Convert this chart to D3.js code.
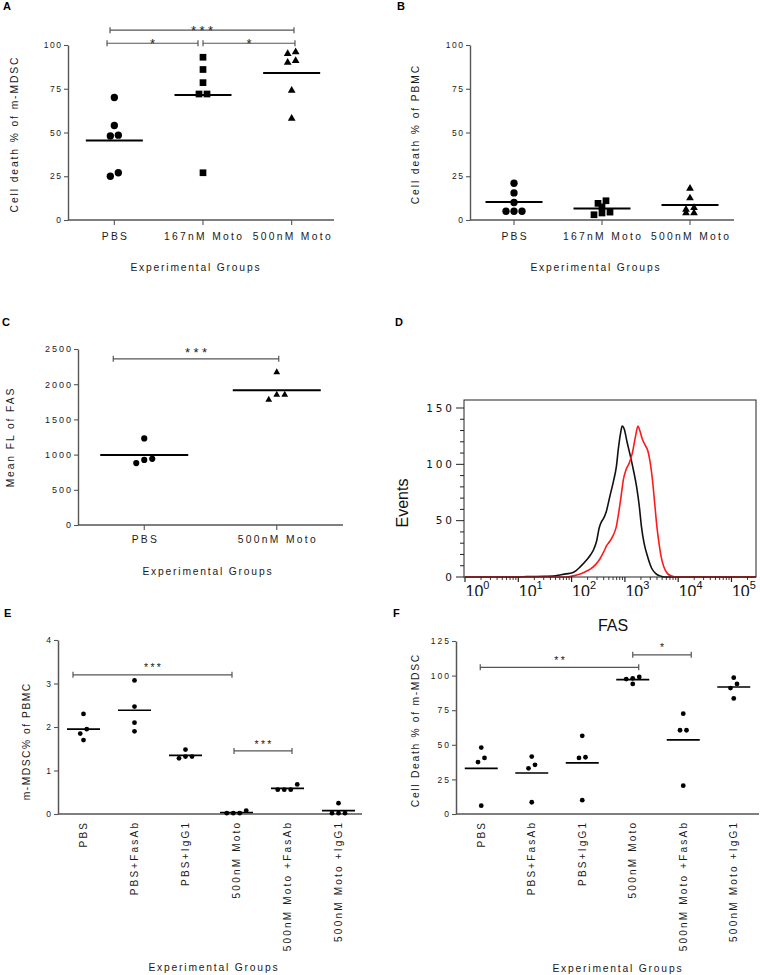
<!DOCTYPE html>
<html>
<head>
<meta charset="utf-8">
<script src="https://cdn.jsdelivr.net/npm/d3@7"></script>
<style>
  body { margin: 0; background: #fff; }
  svg { display: block; }
</style>
</head>
<body>
<svg id="fig" width="760" height="975"></svg>
<script>
// ================= DATA =================
// Panel A: Cell death % of m-MDSC
const groupsAB = ["PBS", "167nM Moto", "500nM Moto"];
const aPBS = [70, 54, 48.5, 48, 27, 25];
const a167 = [93, 86, 78.5, 72, 72, 27];
const a500 = [96, 95, 91, 90, 74, 58];
const abTicks = [0, 25, 50, 75, 100];
const aSig = [
  { from: "PBS", to: "500nM Moto", y: 108.5, label: "***" },
  { from: "PBS", to: "167nM Moto", y: 101, label: "*" },
  { from: "167nM Moto", to: "500nM Moto", y: 101, label: "*" }
];
// Panel B: Cell death % of PBMC
const bPBS = [21, 15.5, 10, 5, 5, 5];
const b167 = [11, 9.5, 7.5, 4.5, 4, 3];
const b500 = [18, 12.5, 7, 6, 4, 4];

// Panel C: Mean FL of FAS
const groupsC = ["PBS", "500nM Moto"];
const cPBS = [1230, 940, 880, 925];
const c500 = [2170, 1850, 1780, 1850];
const cTicks = [0, 500, 1000, 1500, 2000, 2500];
const cSig = [{ from: "PBS", to: "500nM Moto", y: 2360, label: "***" }];

// Panel D: flow histogram (intensity, events)
const dBlackIntensity = [1, 10, 14.5, 31.6, 45.7, 63.1, 79.4, 100, 120, 145, 191, 229, 257, 295, 331, 363, 398, 447, 525, 617, 692, 759, 832, 891, 977, 1096, 1259, 1445, 1660, 1862, 2042, 2291, 2630, 3162, 3802, 4571, 5623, 288400];
const dBlackEvents    = [0, 0, 0.4, 0.6, 0.8, 2, 2.8, 3.5, 5.5, 9, 15, 20, 24, 32, 44, 49, 52, 58, 72, 86, 98, 115, 128, 134, 131, 120, 108, 95, 80, 63, 45, 30, 19, 8, 3, 1, 0, 0];
const dRedIntensity = [1, 79.4, 107, 141, 178, 224, 282, 339, 398, 457, 525, 603, 692, 759, 851, 933, 1047, 1202, 1380, 1585, 1758, 1905, 2138, 2399, 2692, 2951, 3311, 3631, 3981, 4365, 4786, 5370, 6310, 7586, 9333, 288400];
const dRedEvents    = [0, 0, 1, 2.5, 4.5, 7, 11, 16, 22, 28, 32, 37, 45, 56, 72, 86, 95, 101, 110, 125, 134, 130, 122, 117, 112, 103, 85, 65, 45, 30, 18, 9, 3, 0.8, 0, 0];
const dYTicks = [0, 50, 100, 150];
const dXDecades = [0, 1, 2, 3, 4, 5];

// Panels E & F
const groupsEF = ["PBS", "PBS+FasAb", "PBS+IgG1", "500nM Moto", "500nM Moto +FasAb", "500nM Moto +IgG1"];
const eValues = [
  [2.3, 1.95, 1.85, 1.7],
  [3.07, 2.47, 2.1, 1.9],
  [1.48, 1.32, 1.32, 1.28],
  [0.08, 0.02, 0.02, 0.02],
  [0.68, 0.56, 0.56, 0.56],
  [0.25, 0.02, 0.02, 0.02]
];
const eTicks = [0, 1, 2, 3, 4];
const eSig = [
  { from: "PBS", to: "500nM Moto", y: 3.2, label: "***" },
  { from: "500nM Moto", to: "500nM Moto +FasAb", y: 1.45, label: "***" }
];
const fValues = [
  [48, 40.5, 37.5, 6],
  [41.5, 35.5, 33, 8.5],
  [56.5, 41, 40.5, 10],
  [99, 98, 97.5, 94],
  [72.5, 60.5, 60.5, 20.5],
  [98.5, 94, 91, 83.5]
];
const fTicks = [0, 25, 50, 75, 100, 125];
const fSig = [
  { from: "PBS", to: "500nM Moto", y: 106, label: "**" },
  { from: "500nM Moto", to: "500nM Moto +FasAb", y: 115, label: "*" }
];

// ================= DRAWING =================
const svg = d3.select("#fig");
const FONT = '"Liberation Sans", Arial, Helvetica, sans-serif';
const AX = "#555", TXT = "#1a1a1a", BR = "#555";

function label(g, x, y, s, o = {}) {
  const ls = o.ls || 0, size = o.size || 10, anchor = o.anchor || "middle";
  const sh = anchor === "middle" ? ls / 2 : anchor === "end" ? ls : 0;
  const t = g.append("text").text(s)
    .attr("font-family", o.family || FONT).attr("font-size", size)
    .attr("letter-spacing", ls).attr("text-anchor", anchor)
    .attr("fill", o.fill || TXT);
  if (o.weight) t.attr("font-weight", o.weight);
  if (o.rotate) {
    t.attr("transform", `translate(${x},${y - sh}) rotate(-90)`).attr("dy", "0.35em");
  } else {
    t.attr("x", x + sh).attr("y", y);
  }
  return t;
}

function swarmOffsets(vals, y, thr, step) {
  const order = vals.map((v, i) => i).sort((a, b) => vals[b] - vals[a]);
  const off = vals.map(() => 0);
  let cl = [], start = 0;
  const flush = () => {
    cl.sort((a, b) => vals[a] - vals[b]);
    cl.forEach((id, k) => off[id] = (k - (cl.length - 1) / 2) * step);
    cl = [];
  };
  order.forEach(id => {
    const py = y(vals[id]);
    if (cl.length && Math.abs(py - start) > thr) flush();
    if (!cl.length) start = py;
    cl.push(id);
  });
  flush();
  return off;
}

function dotPlot(c) {
  const g = svg.append("g");
  const x = d3.scaleBand().domain(c.cats).range(c.band);
  const cx = k => x(k) + x.bandwidth() / 2;
  const y = d3.scaleLinear().domain(c.yDomain).range(c.yRange);
  const y0 = y(0);

  const yAx = g.append("g").attr("transform", `translate(${c.axisX},0)`)
    .call(d3.axisLeft(y).tickValues(c.yTicks).tickFormat(d3.format("d"))
      .tickSize(4).tickSizeOuter(0).tickPadding(3));
  yAx.select(".domain").attr("stroke", AX).attr("stroke-width", c.axW);
  yAx.selectAll(".tick line").attr("stroke", AX).attr("stroke-width", 1.1);
  yAx.selectAll(".tick text").attr("font-family", FONT).attr("font-size", c.yTickSize)
    .attr("letter-spacing", c.yTickLs).attr("dx", c.yTickLs).attr("fill", TXT);

  g.append("line").attr("x1", c.axisX).attr("x2", c.xEnd).attr("y1", y0).attr("y2", y0)
    .attr("stroke", AX).attr("stroke-width", c.axW);

  c.cats.forEach((k, i) => {
    const xc = cx(k);
    if (c.xTicks) {
      g.append("line").attr("x1", xc).attr("x2", xc).attr("y1", y0).attr("y2", y0 + 5)
        .attr("stroke", AX).attr("stroke-width", 1.1);
    }
    if (c.rotate) {
      label(g, xc, y0 + 9, k, { size: 10, ls: 2.2, anchor: "end", rotate: true });
    } else {
      label(g, xc, c.labelY, k, { size: 10.3, ls: 2.3 });
    }
    const vals = c.series[i];
    const offs = swarmOffsets(vals, y, c.swarmThr, c.swarmStep);
    const sym = d3.symbol().type(c.shapes[i]).size(c.sizes[i]);
    vals.forEach((v, j) => {
      g.append("path").attr("d", sym())
        .attr("transform", `translate(${xc + offs[j]},${y(v)})`)
        .attr("fill", "#000");
    });
    const m = d3.mean(vals);
    g.append("line").attr("x1", xc - c.meanHalf).attr("x2", xc + c.meanHalf)
      .attr("y1", y(m)).attr("y2", y(m)).attr("stroke", "#000").attr("stroke-width", c.meanW);
  });

  (c.sig || []).forEach((s, i) => {
    const [d1, d2] = c.sigLayout[i];
    const x1 = cx(s.from) + d1, x2 = cx(s.to) + d2, ly = y(s.y);
    g.append("path")
      .attr("d", `M${x1},${ly - 3}V${ly + 3}M${x1},${ly}H${x2}M${x2},${ly - 3}V${ly + 3}`)
      .attr("stroke", BR).attr("stroke-width", 1.2).attr("fill", "none");
    label(g, (x1 + x2) / 2, ly - c.sigGap + 0.44 * c.sigSize, s.label,
      { size: c.sigSize, ls: c.sigLs, fill: "#222" });
  });

  label(g, c.ylx, c.yly, c.ylabel, { size: 10.3, ls: c.ylLs, rotate: true });
  label(g, c.xlx, c.xly, "Experimental Groups", { size: 10.3, ls: 1.8 });
  label(g, c.px, c.py, c.panel, { size: 11, weight: "bold", anchor: "start", fill: "#000" });
  if (c.title) label(g, c.title[1], c.title[2], c.title[0], { size: 16, fill: "#111" });
}

// Panel A
dotPlot({
  cats: groupsAB, series: [aPBS, a167, a500],
  shapes: [d3.symbolCircle, d3.symbolSquare, d3.symbolTriangle], sizes: [42, 45, 26],
  band: [70, 336], axisX: 68, xEnd: 334, yDomain: [0, 100], yRange: [220, 45], yTicks: abTicks,
  yTickSize: 8.5, yTickLs: 1.6, axW: 1.4,
  xTicks: true, rotate: false, labelY: 240, meanHalf: 28.5, meanW: 2,
  swarmThr: 5, swarmStep: 8,
  sig: aSig, sigLayout: [[-4.3, 2.3], [-7.3, -5], [0, 3.3]], sigGap: 0.5, sigSize: 13, sigLs: 3.5,
  ylabel: "Cell death % of m-MDSC", ylx: 14, yly: 135, ylLs: 1.9,
  xlx: 195, xly: 270.5, panel: "A", px: 3, py: 9.5
});

// Panel B
dotPlot({
  cats: groupsAB, series: [bPBS, b167, b500],
  shapes: [d3.symbolCircle, d3.symbolSquare, d3.symbolTriangle], sizes: [42, 45, 26],
  band: [470, 734], axisX: 470, xEnd: 734, yDomain: [0, 100], yRange: [220, 45], yTicks: abTicks,
  yTickSize: 8.5, yTickLs: 1.6, axW: 1.4,
  xTicks: true, rotate: false, labelY: 240, meanHalf: 28.5, meanW: 2,
  swarmThr: 5, swarmStep: 8,
  ylabel: "Cell death % of PBMC", ylx: 415, yly: 135, ylLs: 1.9,
  xlx: 595, xly: 270.5, panel: "B", px: 397, py: 9.5
});

// Panel C
dotPlot({
  cats: groupsC, series: [cPBS, c500],
  shapes: [d3.symbolCircle, d3.symbolTriangle], sizes: [30, 20],
  band: [78, 343], axisX: 78, xEnd: 343, yDomain: [0, 2500], yRange: [525, 349], yTicks: cTicks,
  yTickSize: 9, yTickLs: 2, axW: 1.4,
  xTicks: true, rotate: false, labelY: 543, meanHalf: 44, meanW: 2,
  swarmThr: 5, swarmStep: 8,
  sig: cSig, sigLayout: [[-31, 2]], sigGap: 8, sigSize: 13, sigLs: 3.5,
  ylabel: "Mean FL of FAS", ylx: 10, yly: 438, ylLs: 1.9,
  xlx: 207, xly: 575, panel: "C", px: 2, py: 326
});

// Panel E
dotPlot({
  cats: groupsEF, series: eValues,
  shapes: groupsEF.map(() => d3.symbolCircle), sizes: groupsEF.map(() => 18),
  band: [58, 364], axisX: 58, xEnd: 362, yDomain: [0, 4], yRange: [814, 640], yTicks: eTicks,
  yTickSize: 8.5, yTickLs: 2, axW: 1.5,
  xTicks: false, rotate: true, meanHalf: 16.5, meanW: 1.7,
  swarmThr: 5.5, swarmStep: 6.5,
  sig: eSig, sigLayout: [[-10.5, -4.5], [-2.5, 4.5]], sigGap: 8, sigSize: 10.5, sigLs: 2.3,
  ylabel: "m-MDSC% of PBMC", ylx: 26, yly: 742, ylLs: 1.5,
  xlx: 213, xly: 971, panel: "E", px: 4, py: 617
});

// Panel F
dotPlot({
  cats: groupsEF, series: fValues,
  shapes: groupsEF.map(() => d3.symbolCircle), sizes: groupsEF.map(() => 18),
  band: [456, 759], axisX: 456, xEnd: 759, yDomain: [0, 125], yRange: [814, 641], yTicks: fTicks,
  yTickSize: 8.5, yTickLs: 2, axW: 1.5,
  xTicks: false, rotate: true, meanHalf: 16.5, meanW: 1.7,
  swarmThr: 4.5, swarmStep: 6.5,
  sig: fSig, sigLayout: [[-1, 6], [0, 8]], sigGap: 8, sigSize: 10.5, sigLs: 2.3,
  ylabel: "Cell Death % of m-MDSC", ylx: 415, yly: 731, ylLs: 1.7,
  xlx: 617, xly: 972, panel: "F", px: 393, py: 617,
  title: ["FAS", 613, 631]
});

// Panel D: histogram
(function histPanel() {
  const g = svg.append("g");
  const L = 464, R = 756, T = 400, B = 577;
  const x = d3.scaleLog().domain([1, 288400]).range([465, 756]);
  const y = d3.scaleLinear().domain([0, 150]).range([577, 408]);
  const defs = g.append("defs");
  defs.append("clipPath").attr("id", "dclip").append("rect")
    .attr("x", L).attr("y", T).attr("width", R - L).attr("height", B - T + 1);
  defs.append("clipPath").attr("id", "dlabclip").append("rect")
    .attr("x", 440).attr("y", 560).attr("width", 320).attr("height", 36);

  const line = d3.line().x(d => x(d[0])).y(d => y(d[1])).curve(d3.curveMonotoneX);
  const plot = g.append("g").attr("clip-path", "url(#dclip)");
  plot.append("path").attr("d", line(d3.zip(dBlackIntensity, dBlackEvents)))
    .attr("fill", "none").attr("stroke", "#111").attr("stroke-width", 1.6);
  plot.append("path").attr("d", line(d3.zip(dRedIntensity, dRedEvents)))
    .attr("fill", "none").attr("stroke", "#ff1a1a").attr("stroke-width", 1.6);

  g.append("rect").attr("x", L).attr("y", T).attr("width", R - L).attr("height", B - T)
    .attr("fill", "none").attr("stroke", "#222").attr("stroke-width", 1);

  d3.range(0, 151, 10).forEach(v => {
    const len = v % 50 === 0 ? 8 : 4;
    g.append("line").attr("x1", L - len).attr("x2", L).attr("y1", y(v)).attr("y2", y(v))
      .attr("stroke", "#222").attr("stroke-width", 1);
  });
  dYTicks.forEach(v => {
    label(g, 452, y(v) + 3.8, String(v),
      { size: 10.5, ls: 2.8, anchor: "end", family: '"DejaVu Sans", sans-serif', fill: "#111" });
  });
  dXDecades.forEach(k => {
    const base = Math.pow(10, k);
    g.append("line").attr("x1", x(base)).attr("x2", x(base)).attr("y1", B).attr("y2", B + 5)
      .attr("stroke", "#222").attr("stroke-width", 1.2);
    d3.range(2, 10).forEach(m => {
      const v = m * base;
      if (v < 288400) {
        g.append("line").attr("x1", x(v)).attr("x2", x(v)).attr("y1", B).attr("y2", B + 3)
          .attr("stroke", "#222").attr("stroke-width", 0.9);
      }
    });
  });
  const lab = g.append("g").attr("clip-path", "url(#dlabclip)");
  dXDecades.forEach(k => {
    const t = lab.append("text").attr("x", x(Math.pow(10, k)) + 0.5).attr("y", 597)
      .attr("font-family", FONT).attr("font-size", 16).attr("fill", "#111");
    t.append("tspan").text("10");
    t.append("tspan").text(String(k)).attr("font-size", 11).attr("dy", -8);
  });
  label(g, 402, 503, "Events", { size: 16, rotate: true, fill: "#111" });
  label(g, 395, 326, "D", { size: 11, weight: "bold", anchor: "start", fill: "#000" });
})();
</script>
</body>
</html>
